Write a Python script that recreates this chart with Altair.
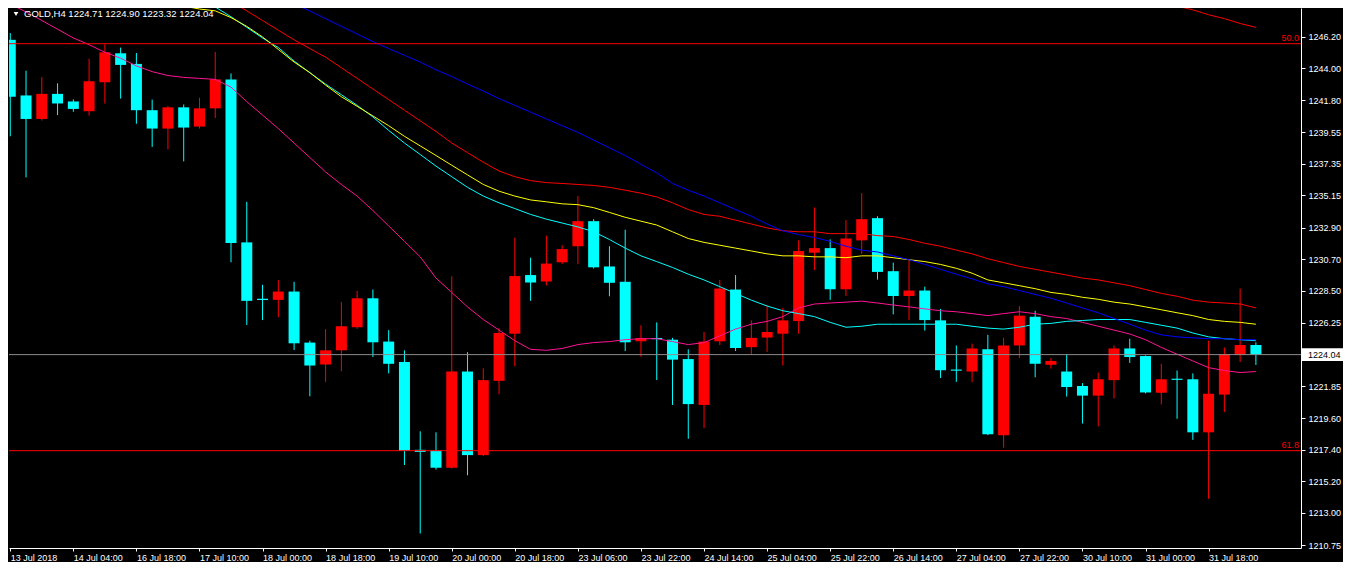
import altair as alt
import pandas as pd

# ---------------- data ----------------
title_text = "GOLD,H4  1224.71 1224.90 1223.32 1224.04"

x_labels = ["13 Jul 2018", "14 Jul 04:00", "16 Jul 18:00", "17 Jul 10:00", "18 Jul 00:00",
            "18 Jul 18:00", "19 Jul 10:00", "20 Jul 00:00", "20 Jul 18:00", "23 Jul 06:00",
            "23 Jul 22:00", "24 Jul 14:00", "25 Jul 04:00", "25 Jul 22:00", "26 Jul 14:00",
            "27 Jul 04:00", "27 Jul 22:00", "30 Jul 10:00", "31 Jul 00:00", "31 Jul 18:00"]

y_ticks = [1246.20, 1244.00, 1241.80, 1239.55, 1237.35, 1235.15, 1232.90, 1230.70,
           1228.50, 1226.25, 1221.85, 1219.60, 1217.40, 1215.20, 1213.00, 1210.75]

opens = [1246.00, 1242.12, 1240.48, 1242.23, 1241.70, 1241.02, 1243.04, 1245.06, 1244.32, 1241.09,
         1239.81, 1241.29, 1239.95, 1241.22, 1243.24, 1231.87, 1227.93, 1227.86, 1228.44, 1224.88,
         1223.35, 1224.34, 1225.95, 1227.97, 1224.95, 1223.53, 1217.40, 1217.36, 1216.15, 1222.86,
         1217.03, 1222.21, 1225.50, 1229.59, 1229.14, 1230.48, 1231.60, 1233.35, 1230.19, 1229.12,
         1224.97, 1225.20, 1225.08, 1223.73, 1220.53, 1224.97, 1228.58, 1224.56, 1225.23, 1225.50,
         1226.38, 1231.15, 1231.47, 1228.60, 1232.01, 1233.56, 1229.86, 1228.13, 1228.51, 1226.43,
         1223.00, 1222.86, 1224.41, 1218.42, 1224.68, 1226.69, 1223.33, 1222.86, 1221.85, 1221.18,
         1222.26, 1224.47, 1223.94, 1221.38, 1222.36, 1222.32, 1218.62, 1221.25, 1224.01, 1224.71]
highs = [1246.47, 1243.85, 1243.40, 1242.97, 1241.85, 1244.68, 1245.68, 1245.46, 1245.08, 1241.83,
         1241.38, 1241.49, 1241.96, 1245.15, 1243.65, 1234.70, 1228.91, 1229.25, 1229.12, 1225.01,
         1225.82, 1227.70, 1228.49, 1228.58, 1225.75, 1224.34, 1218.69, 1218.62, 1229.50, 1224.21,
         1223.08, 1225.89, 1232.21, 1230.80, 1232.34, 1231.67, 1235.10, 1233.49, 1231.60, 1232.75,
         1226.09, 1226.29, 1225.21, 1224.41, 1225.62, 1229.25, 1229.59, 1226.43, 1227.50, 1227.30,
         1232.01, 1234.30, 1232.08, 1233.42, 1235.30, 1233.69, 1230.46, 1230.62, 1228.78, 1227.23,
         1224.68, 1224.81, 1225.42, 1225.21, 1227.43, 1227.10, 1223.80, 1224.07, 1222.05, 1222.79,
         1224.68, 1225.15, 1223.98, 1223.40, 1222.93, 1222.73, 1225.01, 1224.54, 1228.65, 1224.90]
lows = [1239.27, 1236.40, 1240.37, 1240.75, 1240.98, 1240.71, 1241.56, 1241.90, 1240.15, 1238.53,
        1238.35, 1237.52, 1239.81, 1240.55, 1230.48, 1226.11, 1226.45, 1226.65, 1224.36, 1221.13,
        1222.14, 1222.88, 1225.84, 1223.87, 1222.73, 1216.34, 1211.56, 1216.02, 1216.09, 1215.62,
        1216.96, 1221.27, 1223.22, 1227.79, 1228.87, 1230.35, 1230.35, 1230.05, 1228.11, 1224.29,
        1223.89, 1222.27, 1220.53, 1218.17, 1218.91, 1224.70, 1224.29, 1224.02, 1224.23, 1223.28,
        1225.50, 1229.94, 1227.86, 1228.13, 1231.07, 1229.27, 1226.85, 1226.45, 1225.71, 1222.41,
        1222.14, 1222.12, 1218.42, 1217.55, 1223.80, 1222.46, 1223.06, 1221.11, 1219.23, 1219.03,
        1220.98, 1223.46, 1221.33, 1220.57, 1219.56, 1218.09, 1213.98, 1220.04, 1223.53, 1223.32]
closes = [1242.03, 1240.48, 1242.23, 1241.56, 1241.18, 1243.11, 1245.13, 1244.25, 1241.09, 1239.81,
          1241.29, 1239.88, 1241.22, 1243.24, 1231.83, 1227.79, 1227.85, 1228.44, 1224.83, 1223.28,
          1224.34, 1226.02, 1227.97, 1224.90, 1223.40, 1217.32, 1217.25, 1216.15, 1222.86, 1217.03,
          1222.26, 1225.55, 1229.52, 1229.07, 1230.39, 1231.40, 1233.35, 1230.13, 1229.05, 1224.90,
          1225.20, 1225.12, 1223.69, 1220.59, 1224.95, 1228.65, 1224.50, 1225.21, 1225.62, 1226.43,
          1231.27, 1231.47, 1228.60, 1232.14, 1233.49, 1229.81, 1228.13, 1228.51, 1226.45, 1222.95,
          1222.92, 1224.47, 1218.49, 1224.68, 1226.76, 1223.40, 1223.60, 1221.78, 1221.18, 1222.32,
          1224.47, 1223.87, 1221.40, 1222.32, 1222.28, 1218.62, 1221.31, 1224.07, 1224.71, 1224.04]

# moving averages: first bar index and values
ma_pink_start = 0
ma_pink = [1248.49, 1247.95, 1247.35, 1246.74, 1246.13, 1245.66, 1245.13, 1244.72, 1244.18, 1243.78,
           1243.51, 1243.38, 1243.31, 1243.24, 1242.70, 1241.69, 1240.75, 1239.81, 1238.80, 1237.79,
           1236.78, 1235.91, 1235.10, 1234.09, 1233.02, 1231.94, 1230.86, 1229.38, 1228.38, 1227.37,
           1226.49, 1225.75, 1225.01, 1224.41, 1224.34, 1224.47, 1224.74, 1224.88, 1224.95, 1225.08,
           1225.15, 1225.15, 1224.95, 1224.74, 1224.88, 1225.35, 1225.82, 1226.16, 1226.36, 1226.69,
           1227.30, 1227.57, 1227.64, 1227.70, 1227.77, 1227.64, 1227.50, 1227.37, 1227.23, 1227.10,
           1227.03, 1226.90, 1226.76, 1226.90, 1227.03, 1226.90, 1226.69, 1226.56, 1226.29, 1226.02,
           1225.75, 1225.48, 1225.08, 1224.54, 1224.07, 1223.60, 1223.13, 1222.93, 1222.79, 1222.86]
ma_cyan_start = 13
ma_cyan = [1248.29, 1247.61, 1246.87, 1246.13, 1245.46, 1244.52, 1243.71, 1242.91, 1242.17, 1241.43,
           1240.62, 1239.68, 1238.80, 1238.00, 1237.19, 1236.45, 1235.71, 1235.10, 1234.63, 1234.23,
           1233.82, 1233.49, 1233.22, 1232.95, 1232.61, 1232.07, 1231.47, 1230.93, 1230.53, 1230.12,
           1229.65, 1229.25, 1228.78, 1228.31, 1227.84, 1227.43, 1227.10, 1226.90, 1226.69, 1226.29,
           1225.95, 1226.02, 1226.16, 1226.16, 1226.16, 1226.16, 1226.16, 1226.16, 1226.02, 1225.89,
           1225.82, 1225.95, 1226.16, 1226.22, 1226.36, 1226.42, 1226.49, 1226.49, 1226.49, 1226.29,
           1226.09, 1225.89, 1225.55, 1225.28, 1225.15, 1225.08, 1225.01]
ma_yellow_start = 11
ma_yellow = [1248.35, 1248.15, 1248.02, 1247.55, 1246.94, 1246.20, 1245.33, 1244.45, 1243.71, 1242.84,
             1242.03, 1241.36, 1240.69, 1240.01, 1239.27, 1238.60, 1237.93, 1237.25, 1236.58, 1235.91,
             1235.44, 1235.10, 1234.83, 1234.70, 1234.56, 1234.50, 1234.29, 1233.96, 1233.62, 1233.35,
             1233.08, 1232.61, 1232.14, 1231.87, 1231.67, 1231.47, 1231.27, 1231.07, 1230.93, 1230.93,
             1230.86, 1230.86, 1230.80, 1230.93, 1230.93, 1230.80, 1230.66, 1230.53, 1230.33, 1230.06,
             1229.72, 1229.25, 1229.05, 1228.85, 1228.64, 1228.38, 1228.24, 1228.04, 1227.90, 1227.70,
             1227.57, 1227.37, 1227.17, 1226.96, 1226.76, 1226.49, 1226.36, 1226.29, 1226.16]
ma_red_start = 14
ma_red = [1248.69, 1248.02, 1247.35, 1246.67, 1246.00, 1245.39, 1244.79, 1244.05, 1243.31, 1242.57,
          1241.83, 1241.09, 1240.35, 1239.61, 1238.80, 1238.13, 1237.46, 1236.85, 1236.45, 1236.18,
          1236.04, 1235.98, 1235.91, 1235.84, 1235.71, 1235.51, 1235.30, 1235.04, 1234.63, 1234.16,
          1233.82, 1233.69, 1233.42, 1233.15, 1232.88, 1232.68, 1232.61, 1232.61, 1232.48, 1232.48,
          1232.48, 1232.34, 1232.28, 1232.07, 1231.81, 1231.60, 1231.33, 1231.07, 1230.73, 1230.46,
          1230.19, 1229.99, 1229.79, 1229.59, 1229.38, 1229.25, 1229.05, 1228.85, 1228.58, 1228.31,
          1228.11, 1227.84, 1227.70, 1227.64, 1227.57, 1227.30]
ma_blue_start = 18
ma_blue = [1248.49, 1248.02, 1247.48, 1246.94, 1246.40, 1245.87, 1245.39, 1244.92, 1244.45, 1243.91,
           1243.44, 1242.91, 1242.43, 1241.90, 1241.43, 1240.95, 1240.48, 1240.01, 1239.54, 1239.00,
           1238.47, 1237.93, 1237.32, 1236.72, 1235.98, 1235.51, 1235.10, 1234.63, 1234.16, 1233.69,
           1233.15, 1232.68, 1232.41, 1232.21, 1231.94, 1231.60, 1231.33, 1231.20, 1230.93, 1230.66,
           1230.33, 1229.99, 1229.65, 1229.32, 1228.98, 1228.78, 1228.51, 1228.24, 1227.97, 1227.64,
           1227.30, 1226.96, 1226.56, 1226.16, 1225.75, 1225.42, 1225.28, 1225.21, 1225.15, 1225.15,
           1225.08, 1225.08]
ma_slow_start = 74
ma_slow = [1248.35, 1248.09, 1247.75, 1247.48, 1247.14, 1246.87]

level_values = [1245.73, 1217.34]
level_labels = ["50.0", "61.8"]
current_price = 1224.04

# ---------------- build tables ----------------
W, H = 1292, 540
FONT = "Liberation Sans"
RED, CYAN = "#FF0000", "#00FFFF"

n = len(opens)
candles = pd.DataFrame({"i": list(range(n)), "open": opens, "high": highs,
                        "low": lows, "close": closes})
candles["col"] = [CYAN if c < o else RED for o, c in zip(opens, closes)]
candles["top"] = candles[["open", "close"]].max(axis=1)
candles["bot"] = candles[["open", "close"]].min(axis=1)

series = [(ma_pink_start, ma_pink, "#FF1493"), (ma_cyan_start, ma_cyan, "#00FFFF"),
          (ma_yellow_start, ma_yellow, "#FFFF00"), (ma_red_start, ma_red, "#FF0000"),
          (ma_blue_start, ma_blue, "#0000FF"), (ma_slow_start, ma_slow, "#FF0000")]
rows = []
for sid, (start, vals, col) in enumerate(series):
    for j, v in enumerate(vals):
        rows.append({"i": start + j, "v": v, "s": sid, "col": col})
ma_df = pd.DataFrame(rows)

levels = pd.DataFrame({"y": level_values, "label": level_labels})
price_df = pd.DataFrame({"y": [current_price], "lo": [current_price - 0.45],
                         "hi": [current_price + 0.45], "label": [f"{current_price:.2f}"]})
title_df = pd.DataFrame({"t": [title_text]})

# ---------------- scales / axes ----------------
xs = alt.Scale(domain=[-0.08, 81.86], nice=False, zero=False, padding=0)
ys = alt.Scale(domain=[1210.55, 1248.22], nice=False, zero=False, padding=0)

label_arr = "[" + ",".join("'" + s + "'" for s in x_labels) + "]"
x_axis = alt.Axis(values=list(range(0, 4 * len(x_labels), 4)),
                  labelExpr=label_arr + "[round(datum.value / 4)]",
                  orient="bottom", title=None, grid=False, labelAlign="left",
                  labelColor="white", tickColor="white", domainColor="white",
                  tickSize=3, labelPadding=2, labelFont=FONT, labelFontSize=9,
                  labelOverlap=False, labelFlush=False)
y_axis = alt.Axis(values=y_ticks, format=".2f", orient="right", title=None, grid=False,
                  labelColor="white", tickColor="white", domainColor="white",
                  tickSize=4, labelPadding=3, labelFont=FONT, labelFontSize=9,
                  labelOverlap=False, labelFlush=False)

X = lambda f: alt.X(f, scale=xs, axis=x_axis)
Y = lambda f: alt.Y(f, scale=ys, axis=y_axis)

base = alt.Chart(candles)
wicks = base.mark_rule(strokeWidth=1, clip=True).encode(
    x=X("i:Q"), y=Y("low:Q"), y2="high:Q",
    color=alt.Color("col:N", scale=None))
bodies = base.mark_bar(size=11, clip=True).encode(
    x=X("i:Q"), y=Y("bot:Q"), y2="top:Q",
    color=alt.Color("col:N", scale=None))

lines = alt.Chart(ma_df).mark_line(strokeWidth=1, clip=True).encode(
    x=X("i:Q"), y=Y("v:Q"), detail="s:N",
    color=alt.Color("col:N", scale=None))

level_rules = alt.Chart(levels).mark_rule(color=RED, strokeWidth=1).encode(y=Y("y:Q"))
level_text = alt.Chart(levels).mark_text(color=RED, align="right", baseline="bottom",
                                          dy=-1, font=FONT, fontSize=9).encode(
    x=alt.value(W - 2), y=Y("y:Q"), text="label:N")

price_rule = alt.Chart(price_df).mark_rule(color="#8C8C8C", strokeWidth=1).encode(y=Y("y:Q"))
price_box = alt.Chart(price_df).mark_rect(color="white").encode(
    x=alt.value(W + 1), x2=alt.value(W + 42), y=Y("lo:Q"), y2="hi:Q")
price_text = alt.Chart(price_df).mark_text(color="black", align="left", baseline="middle",
                                           font=FONT, fontSize=9).encode(
    x=alt.value(W + 7), y=Y("y:Q"), text="label:N")

tri = alt.Chart(title_df).mark_point(shape="triangle-down", filled=True, color="white",
                                     size=22, opacity=1).encode(
    x=alt.value(7), y=alt.value(6))
title = alt.Chart(title_df).mark_text(color="white", align="left", baseline="middle",
                                      font=FONT, fontSize=9.5).encode(
    x=alt.value(15), y=alt.value(6), text="t:N")

chart = alt.layer(bodies, wicks, lines, level_rules, level_text, price_rule,
                  price_box, price_text, tri, title).properties(
    width=W, height=H, padding={"left": 0, "top": 0, "right": 0, "bottom": 0}
).configure(background="black").configure_view(stroke=None).configure_axis(
    labelOverlap=False)

chart.save("out.html", embed_options={"renderer": "svg", "actions": False})
